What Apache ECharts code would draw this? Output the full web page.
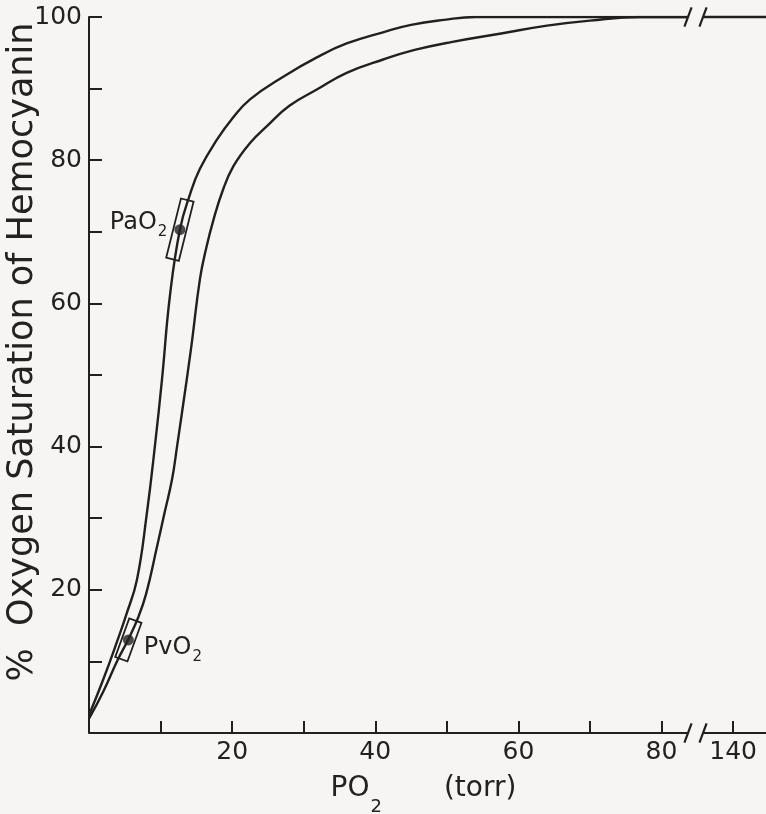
<!DOCTYPE html>
<html>
<head>
<meta charset="utf-8">
<script src="https://cdn.jsdelivr.net/npm/echarts@6/dist/echarts.min.js"></script>
<style>
html,body{margin:0;padding:0;background:#f7f5f4;}
#c{width:766px;height:814px;}
</style>
</head>
<body>
<div id="c"></div>
<script>
// ---- data ----
// left (higher-affinity) curve
const leftPO2 = [0, 2, 4, 5.2, 6.7, 8.1, 9.2, 10.2, 11.3, 12.7, 14.1, 15.5, 17.9, 20, 22.5, 27.2, 31.9, 36, 41.2, 45, 49.6, 54, 83.7];
const leftSat = [2.5, 7.5, 13, 16.5, 21.4, 30.8, 40, 49.4, 61, 70.3, 75.2, 78.8, 82.9, 85.8, 88.5, 91.7, 94.4, 96.3, 97.9, 98.9, 99.6, 100, 100];
// right curve
const rightPO2 = [0, 2, 4, 5.45, 6.9, 8, 9.5, 10.5, 11.6, 12.3, 13.0, 14.3, 15.5, 16.4, 17.4, 18.7, 20.2, 22.5, 24.9, 28, 31.9, 36, 41.2, 45.5, 50.6, 57.6, 64, 70, 77, 83.7];
const rightSat = [2, 5.8, 10.2, 13, 16.2, 19.5, 26, 30.5, 35.4, 40, 44.8, 54, 63.4, 67.8, 71.7, 75.8, 79.2, 82.4, 84.8, 87.6, 89.9, 92.2, 94.1, 95.4, 96.5, 97.7, 98.8, 99.5, 100, 100];
// continuation after the axis break (value 90 on the drawn scale = 140 torr)
const tailPO2 = [85.8, 94.6];
const tailSat = [100, 100];
// marked points
const markerNames = ['PaO', 'PvO'];
const markerPO2 = [12.7, 5.5];
const markerSat = [70.3, 13.0];
// axis break positions (drawn scale)
const breakX = [83.7, 85.8];
const breakY = [0, 100];
// ticks / labels
const xTickValues = [10, 20, 30, 40, 50, 60, 70, 80, 90];
const xLabelValues = [20, 40, 60, 80, 90];
const xLabelText = ['20', '40', '60', '80', '140'];
const yTickValues = [0, 10, 20, 30, 40, 50, 60, 70, 80, 90, 100];
const yLabelValues = [20, 40, 60, 80, 100];

const INK = '#231f20';
const TXT = '#242121';
const FONT = 'DejaVu Sans';

const zip = (a, b) => a.map((v, i) => [v, b[i]]);

const series = [];
series.push({type:'line', data: zip(leftPO2, leftSat), smooth:0.45, symbol:'none',
  lineStyle:{color:INK, width:2.4}, z:3});
series.push({type:'line', data: zip(rightPO2, rightSat), smooth:0.45, symbol:'none',
  lineStyle:{color:INK, width:2.4}, z:3});
series.push({type:'line', data: zip(tailPO2, tailSat), symbol:'none', lineStyle:{color:INK, width:2.4}, clip:false});
// x axis line, broken
series.push({type:'line', data: [[0,0],[breakX[0],0]], symbol:'none', lineStyle:{color:INK, width:2}, clip:false});
series.push({type:'line', data: [[breakX[1],0],[tailPO2[1],0]], symbol:'none', lineStyle:{color:INK, width:2}, clip:false});
// break marks
breakY.forEach(by => breakX.forEach(bx => {
  series.push({type:'line', data: [[bx-0.5, by-1.35],[bx+0.5, by+1.35]], symbol:'none',
    lineStyle:{color:INK, width:2.2}, clip:false, z:4});
}));
// marker boxes (rotated outline rectangles centred on the data point)
const boxRotDeg = [14, 20];
const boxSize = [[13, 61], [13, 41]];
series.push({type:'custom', clip:false, z:5,
  data: zip(markerPO2, markerSat),
  renderItem: (params, api) => {
    const i = params.dataIndex;
    const c = api.coord([api.value(0), api.value(1)]);
    const w = boxSize[i][0], h = boxSize[i][1];
    return {type:'rect', x:c[0], y:c[1], rotation: -boxRotDeg[i] * Math.PI / 180,
      shape:{x:-w/2, y:-h/2, width:w, height:h},
      style:{fill:null, stroke:INK, lineWidth:1.8}};
  }});
// marker dots with labels
const labPos = ['left', 'right'];
const labOff = [[0, -5], [3, 10]];
series.push({type:'scatter', clip:false, z:6, symbol:'circle', symbolSize:11,
  itemStyle:{color:INK},
  data: markerPO2.map((x, i) => ({value:[x, markerSat[i]], name: markerNames[i],
    label:{show:true, position: labPos[i], distance: 7, offset: labOff[i], color:TXT, opacity:1, textBorderWidth:0,
      formatter: '{m|' + markerNames[i] + '}{s|2}',
      rich:{
        m:{fontSize:24, fontFamily:FONT, color:TXT, verticalAlign:'top', lineHeight:28},
        s:{fontSize:15, fontFamily:FONT, color:TXT, verticalAlign:'top', lineHeight:28, padding:[14,0,0,1]}
      }}}))});

const chart = echarts.init(document.getElementById('c'), null, {renderer:'canvas'});
chart.setOption({
  backgroundColor:'#f7f5f4',
  animation:false,
  grid:{left:89, right:0, top:17, bottom:81, containLabel:false, outerBoundsMode:'none'},
  xAxis:{type:'value', min:0, max:94.6, interval:10,
    axisLine:{show:false},
    splitLine:{show:false},
    axisTick:{show:true, inside:true, length:12, customValues:xTickValues, lineStyle:{color:INK, width:2}},
    axisLabel:{show:true, customValues:xLabelValues, margin:7, fontSize:25, fontFamily:FONT, color:TXT,
      formatter: v => { const i = xLabelValues.indexOf(v); return i >= 0 ? xLabelText[i] : ''; }},
    name:'{a|PO}{s|2}{b|(torr)}', nameLocation:'middle', nameGap:42, nameMoveOverlap:false,
    nameTextStyle:{padding:[0,8,0,0], rich:{
      a:{fontSize:28, fontFamily:FONT, color:TXT, verticalAlign:'top', lineHeight:32},
      s:{fontSize:18, fontFamily:FONT, color:TXT, verticalAlign:'top', lineHeight:32, padding:[23,0,0,1]},
      b:{fontSize:28, fontFamily:FONT, color:TXT, verticalAlign:'top', lineHeight:32, padding:[0,0,0,62]}
    }}
  },
  yAxis:{type:'value', min:0, max:100, interval:10,
    axisLine:{show:true, lineStyle:{color:INK, width:2}},
    splitLine:{show:false},
    axisTick:{show:true, inside:true, length:13, customValues:yTickValues, lineStyle:{color:INK, width:2}},
    axisLabel:{show:true, customValues:yLabelValues, margin:7, fontSize:25, fontFamily:FONT, color:TXT,
      formatter: v => (yLabelValues.indexOf(v) >= 0 ? String(v) : '')},
    name:'%  Oxygen Saturation of Hemocyanin', nameLocation:'middle', nameGap:49, nameMoveOverlap:false,
    nameTextStyle:{fontSize:35, fontFamily:FONT, color:TXT, padding:[0,0,0,46]}
  },
  series: series
});
</script>
</body>
</html>
